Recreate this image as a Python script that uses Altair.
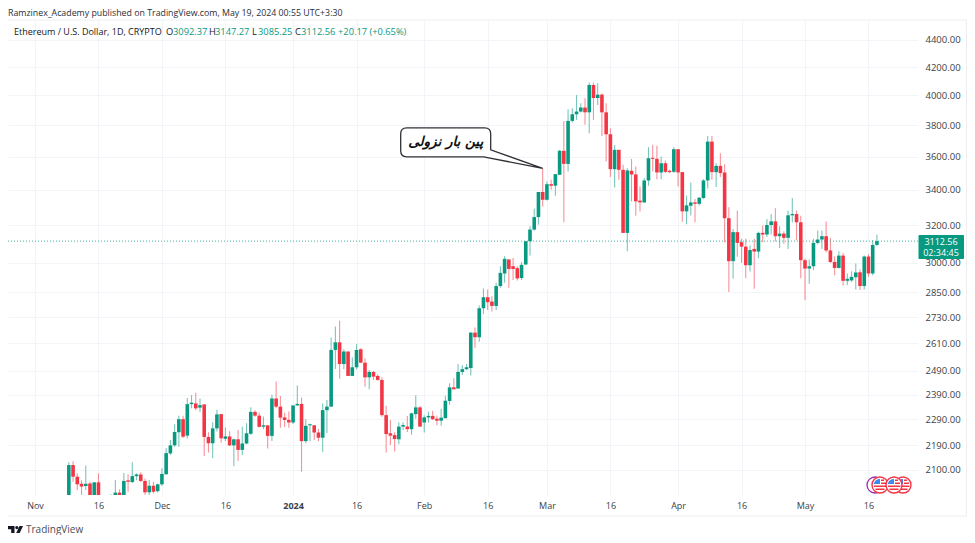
import altair as alt
import pandas as pd

# OHLC, one row per day from 2023-11-09 to 2024-05-18
opens = [1885,2117,2075,2050,2042,2051,1980,2055,1960,1960,1965,2005,2019,1960,2062,2056,2077,2083,2060,2020,2043,2024,
 2048,2084,2160,2190,2240,2291,2227,2351,2354,2337,2350,2222,2198,2255,2311,2215,2224,2190,2213,2173,2197,2234,2320,2305,2261,2267,2226,2374,2341,2298,2288,
 2278,2346,2352,2206,2267,2267,2239,2219,2327,2341,2581,2615,2519,2574,2468,2505,2584,2525,2462,2485,2468,2451,2307,2236,2229,2213,2262,2262,2252,2311,2338,
 2278,2298,2304,2293,2285,2295,2364,2420,2415,2485,2497,2502,2659,2638,2773,2826,2805,2784,2881,2944,3016,2981,2971,2921,2990,3112,3175,3244,3387,
 3342,3433,3424,3489,3636,3555,3828,3872,3890,3917,3885,4072,3982,4005,3885,3741,3523,3642,3519,3157,3513,3491,3337,3327,3455,3592,3586,3503,3559,3513,3507,
 3646,3505,3276,3308,3327,3319,3352,3455,3694,3505,3543,3503,3238,3007,3161,3107,3083,2986,3071,3057,3157,3148,3200,3220,3139,3153,3130,3254,3261,3215,
 3012,2969,2981,3103,3121,3139,3063,3003,2972,3036,2907,2909,2925,2950,2881,3031,2944,3092.37]
highs = [2127,2131,2087,2062,2115,2057,2055,2087,1985,1970,2012,2063,2031,2088,2084,2127,2087,2091,2069,2063,2057,2051,
 2105,2179,2210,2271,2305,2305,2376,2388,2398,2374,2350,2240,2279,2328,2311,2258,2244,2215,2249,2261,2275,2338,2326,2317,2301,2267,2389,2444,2384,2316,2321,
 2346,2428,2378,2291,2273,2267,2253,2354,2368,2637,2687,2714,2584,2574,2548,2608,2588,2544,2493,2489,2474,2462,2345,2288,2240,2279,2279,2304,2317,2387,2344,
 2307,2321,2324,2306,2332,2385,2437,2458,2519,2514,2519,2662,2682,2786,2869,2864,2831,2897,2981,3033,3016,3024,2981,3003,3112,3193,3291,3387,3527,
 3449,3459,3493,3642,3828,3906,3912,4002,3946,3980,4089,4089,4084,4014,3946,3780,3673,3642,3549,3529,3586,3539,3420,3469,3659,3674,3667,3600,3576,3519,3659,
 3646,3505,3366,3443,3346,3358,3463,3730,3730,3559,3621,3553,3300,3178,3281,3125,3125,3089,3125,3164,3197,3233,3261,3293,3193,3166,3281,3352,3280,3252,
 3019,3016,3125,3170,3170,3220,3130,3033,3059,3050,2944,2955,2995,2964,3036,3043,3117,3147.27]
lows = [1860,2057,2028,2010,2028,1970,1970,1950,1930,1935,1950,1990,1930,1950,2022,2053,2063,2056,2011,2005,2016,2019,
 2043,2081,2154,2185,2185,2218,2217,2334,2327,2319,2150,2163,2142,2243,2200,2207,2188,2113,2132,2154,2194,2230,2301,2258,2252,2178,2207,2334,2257,2260,2257,
 2272,2344,2093,2198,2206,2210,2206,2165,2236,2341,2498,2456,2497,2468,2468,2496,2522,2423,2412,2451,2448,2301,2163,2191,2167,2194,2249,2241,2231,2293,2260,
 2239,2278,2288,2267,2265,2295,2349,2412,2415,2472,2493,2470,2591,2617,2745,2765,2757,2765,2873,2897,2873,2911,2909,2911,2986,3037,3168,3202,3304,
 3338,3400,3366,3489,3215,3509,3817,3835,3883,3802,3748,3835,3935,3730,3569,3475,3414,3459,3157,3059,3333,3252,3276,3323,3424,3509,3463,3463,3499,3499,3499,
 3420,3218,3204,3253,3215,3310,3348,3408,3459,3416,3475,3106,2851,2917,3030,2998,2920,2954,2868,3023,3107,3135,3148,3110,3076,3099,3071,3215,3117,2920,
 2813,2892,2961,3096,3071,3054,2998,2935,2969,2884,2886,2902,2864,2861,2864,2927,2935,3085.25]
closes = [2117,2075,2048,2040,2050,1980,2055,1960,1960,1965,2011,2019,1960,2060,2057,2077,2083,2060,2020,2043,2022,2048,
 2085,2161,2190,2241,2291,2223,2351,2357,2334,2347,2222,2198,2255,2310,2217,2224,2190,2213,2173,2197,2236,2320,2305,2261,2267,2226,2374,2341,2297,2288,2278,
 2346,2352,2206,2265,2271,2239,2219,2327,2341,2581,2615,2519,2574,2468,2505,2581,2525,2462,2485,2465,2451,2307,2233,2227,2214,2262,2268,2252,2314,2338,2262,
 2298,2304,2291,2285,2297,2365,2420,2412,2485,2497,2505,2659,2638,2773,2826,2802,2784,2881,2947,3019,2967,2967,2919,2988,3112,3175,3244,3387,3342,
 3433,3424,3493,3636,3555,3828,3872,3890,3917,3885,4072,3982,4005,3885,3741,3523,3642,3519,3157,3515,3491,3333,3327,3455,3590,3586,3503,3559,3507,3505,3646,
 3503,3276,3310,3327,3319,3354,3455,3694,3505,3543,3499,3238,3007,3161,3103,3083,2986,3065,3057,3157,3148,3200,3220,3139,3153,3130,3254,3261,3215,3012,
 2969,2981,3103,3121,3139,3063,3003,2972,3036,2907,2917,2927,2949,2881,3031,2944,3092,3112.56]
price_ticks = [4400,4200,4000,3800,3600,3400,3200,3000,2850,2730,2610,2490,2390,2290,2190,2100]
tick_dates = ["2023-11-01","2023-11-16","2023-12-01","2023-12-16","2024-01-01","2024-01-16","2024-02-01",
              "2024-02-16","2024-03-01","2024-03-16","2024-04-01","2024-04-16","2024-05-01","2024-05-16"]
last_price = 3112.56
callout_date = "2024-02-29T00:00:00Z"
callout_price = 3527
credit = "Ramzinex_Academy published on TradingView.com, May 19, 2024 00:55 UTC+3:30"
symbol = "Ethereum / U.S. Dollar, 1D, CRYPTO"
ohlc_parts = [("O",158,"#131722"),("3092.37",165,"#089981"),("H",201,"#131722"),("3147.27",207,"#089981"),
              ("L",244,"#131722"),("3085.25",250,"#089981"),("C",287,"#131722"),("3112.56",293,"#089981"),
              ("+20.17 (+0.65%)",330,"#089981")]
callout_text = "پین بار نزولی"

UP, DOWN = "#089981", "#f23645"
FONT = "Open Sans"
W, H = 910, 475

days = pd.date_range("2023-11-09", "2024-05-18", freq="D")
assert len(days) == len(opens) == len(highs) == len(lows) == len(closes), (len(days), len(opens), len(highs), len(lows), len(closes))
df = pd.DataFrame({"date": days.strftime("%Y-%m-%dT00:00:00Z"), "open": opens, "high": highs, "low": lows, "close": closes})
df["dir"] = ["up" if c >= o else "down" for o, c in zip(opens, closes)]

xs = alt.Scale(type="utc", domain=["2023-10-25T14:53:00Z", "2024-05-27T17:00:00Z"], padding=0)
ys = alt.Scale(type="log", domain=[2010.7, 4554], nice=False, clamp=False, padding=0)
col = alt.Color("dir:N", scale=alt.Scale(domain=["up", "down"], range=[UP, DOWN]), legend=None)
GRID = "#f3f4f7"
xaxis = alt.Axis(values=[d + "T00:00:00Z" for d in tick_dates], title=None, ticks=False, domain=False,
                 grid=True, gridColor=GRID, labelPadding=6, labelFontSize=9, labelFont=FONT, labelColor="#3a3e49",
                 labelFlush=False, labelOverlap=False,
                 labelExpr="utcdate(datum.value)==16 ? '16' : (utcmonth(datum.value)==0 ? timeFormat(datum.value,'%Y') : utcFormat(datum.value,'%b'))",
                 labelFontWeight={"condition": {"test": "utcmonth(datum.value)==0 && utcdate(datum.value)==1", "value": "bold"}, "value": "normal"})
yaxis = alt.Axis(orient="right", values=price_ticks, format=".2f", title=None, ticks=False, domain=False,
                 grid=True, gridColor=GRID, labelPadding=7, labelFontSize=9.5, labelFont=FONT, labelColor="#3a3e49",
                 labelOverlap=False, labelFlush=False)

one = pd.DataFrame({"a": [0]})

def label(text, x, y, color="#131722", size=9, weight="normal", align="left", font=FONT, style="normal"):
    return alt.Chart(one).mark_text(text=text, align=align, baseline="middle", fontSize=size, font=font,
                                    fontWeight=weight, fontStyle=style, color=color).encode(
        x=alt.value(x), y=alt.value(y))

def glyph(path, x, y, fill=None, stroke=None, sw=0):
    kw = {"shape": path, "size": 4, "opacity": 1, "strokeWidth": sw}
    kw["filled"] = fill is not None
    if fill is not None:
        kw["fill"] = fill
    if stroke is not None:
        kw["stroke"] = stroke
    return alt.Chart(one).mark_point(**kw).encode(x=alt.value(x), y=alt.value(y))

frame = alt.Chart(one).mark_rect(filled=False, stroke="#eceef2", strokeWidth=1).encode(
    x=alt.value(-1), x2=alt.value(958.5), y=alt.value(0), y2=alt.value(496))
wicks = alt.Chart(df).mark_rule(clip=True, strokeWidth=1.1, opacity=0.55).encode(
    x=alt.X("date:T", scale=xs, axis=xaxis),
    y=alt.Y("low:Q", scale=ys, axis=yaxis),
    y2="high:Q", color=col)
bodies = alt.Chart(df).mark_bar(clip=True, size=3.6).encode(
    x=alt.X("date:T", scale=xs), y=alt.Y("open:Q", scale=ys), y2="close:Q", color=col)
last_line = alt.Chart(one).mark_rule(strokeDash=[1, 2], color=UP, opacity=0.75, strokeWidth=1).encode(
    y=alt.datum(last_price, scale=ys))

tip = pd.DataFrame({"date": [callout_date], "price": [callout_price]})
bubble_path = ("M-136 -40.7 H-58 Q-52 -40.7 -52 -34.7 V-18.7 L0 0 L-59 -11.7 H-136 "
               "Q-142 -11.7 -142 -17.7 V-34.7 Q-142 -40.7 -136 -40.7 Z")
bubble = alt.Chart(tip).mark_point(shape=bubble_path, size=4, filled=True, fill="#ffffff", stroke="#2f3136",
                                   strokeWidth=1.3, opacity=1).encode(
    x=alt.X("date:T", scale=xs), y=alt.Y("price:Q", scale=ys))
bubble_text = alt.Chart(tip).mark_text(text=callout_text, font="DejaVu Sans", fontSize=13.5, fontWeight="bold",
                                       fontStyle="italic", color="#111111", dx=-97, dy=-26).encode(
    x=alt.X("date:T", scale=xs), y=alt.Y("price:Q", scale=ys))

price_box = alt.Chart(one).mark_rect(fill=UP, cornerRadius=1).encode(
    x=alt.value(910.5), x2=alt.value(956), y=alt.value(215), y2=alt.value(239))

layers = [frame, wicks, last_line, bodies, bubble, bubble_text, price_box,
          label("3112.56", 933, 221.5, "#ffffff", 9, align="center"),
          label("02:34:45", 933, 232.5, "#ffffff", 9, align="center"),
          label(credit, 0, -7.5, "#2a2e39", 8.8),
          label(symbol, 6, 12, "#131722", 9)]
layers += [label(t, x, 12, c, 9.3) for t, x, c in ohlc_parts]

# US-flag event badges at the bottom right
circle = "M-8 0 A8 8 0 1 1 8 0 A8 8 0 1 1 -8 0 Z"
canton = "M-6 -1 V-2 A6.3 6.3 0 0 1 -1 -6 H0 V-1 Z"
stripes = "M1 -5.5 H4 V-4 H1 Z M1 -2.5 H6 V-1 H1 Z M-6 0.5 H6.5 V2 H-6 Z M-4.5 3.5 H4.5 V5 H-4.5 Z"
layers.append(glyph(circle, 867, 465, fill="#ffffff", stroke="#9c27b0", sw=1.3))
for fx in [895, 872, 886]:
    layers += [glyph(circle, fx, 465, fill="#ffffff", stroke=DOWN, sw=1.4),
               glyph(canton, fx, 465, fill="#3d8bef"),
               glyph(stripes, fx, 465, fill=DOWN)]

# TradingView mark and name
logo = ("M0 0 H6.5 V7 H3.2 V3.2 H0 Z M7.2 1.6 A1.6 1.6 0 1 1 10.4 1.6 A1.6 1.6 0 1 1 7.2 1.6 Z "
        "M11.5 0 H15 L11.7 7 H8.2 Z")
layers.append(glyph(logo, 0, 506, fill="#131722"))
layers.append(label("TradingView", 18, 509.5, "#4a4e59", 10))

chart = alt.layer(*layers).resolve_scale(color="independent").properties(
    width=W, height=H, padding={"left": 0, "top": 12, "right": 49, "bottom": 40},
    autosize=alt.AutoSizeParams(type="none"), background="#ffffff",
).configure_view(stroke=None)

chart.save("out.html", embed_options={"renderer": "svg", "actions": False})
